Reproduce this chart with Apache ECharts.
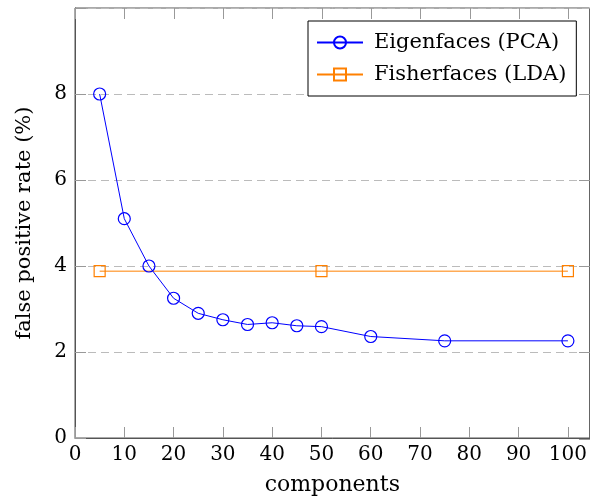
<!DOCTYPE html>
<html>
<head>
<meta charset="utf-8">
<script src="https://cdn.jsdelivr.net/npm/echarts@6/dist/echarts.min.js"></script>
<style>html,body{margin:0;padding:0;background:#fff;}#c{width:590px;height:501px;}</style>
</head>
<body>
<div id="c"></div>
<script>
var pcaX = [5, 10, 15, 20, 25, 30, 35, 40, 45, 50, 60, 75, 100];
var pcaY = [8.0, 5.1, 4.0, 3.25, 2.9, 2.75, 2.64, 2.68, 2.61, 2.59, 2.36, 2.26, 2.26];
var ldaX = [5, 50, 100];
var ldaY = [3.88, 3.88, 3.88];
var seriesNames = ['Eigenfaces (PCA)', 'Fisherfaces (LDA)'];
var xTicks = [0, 10, 20, 30, 40, 50, 60, 70, 80, 90, 100];
var yTicks = [0, 2, 4, 6, 8];
var xMin = 0, xMax = 104.4, yMin = 0, yMax = 10;

function zip(a, b) { return a.map(function (v, i) { return [v, b[i]]; }); }

var FONT = 'DejaVu Serif';
var TICK_LEN = 11;
var GRID = {left: 75, top: 8, right: 0, bottom: 62.5};
var W = 590, H = 501;
var plotL = GRID.left, plotR = W - GRID.right, plotT = GRID.top, plotB = H - GRID.bottom;
function xPx(v) { return plotL + (v - xMin) / (xMax - xMin) * (plotR - plotL); }
function yPx(v) { return plotB - (v - yMin) / (yMax - yMin) * (plotB - plotT); }

var g = [];
xTicks.forEach(function (v) {
  var px = Math.round(xPx(v)) + 0.5;
  g.push({type: 'line', shape: {x1: px, y1: plotT, x2: px, y2: plotT + TICK_LEN},
    style: {stroke: '#999', lineWidth: 1}, z: 9, silent: true});
});
yTicks.forEach(function (v) {
  var py = Math.round(yPx(v)) + 0.5;
  g.push({type: 'line', shape: {x1: plotR - TICK_LEN, y1: py, x2: plotR, y2: py},
    style: {stroke: '#999', lineWidth: 1}, z: 9, silent: true});
});

var chart = echarts.init(document.getElementById('c'), null, {renderer: 'canvas'});
chart.setOption({
  animation: false,
  backgroundColor: '#fff',
  grid: {left: GRID.left, top: GRID.top, right: GRID.right, bottom: GRID.bottom, containLabel: false,
         show: true, borderColor: '#555', borderWidth: 1, backgroundColor: 'transparent'},
  graphic: {elements: g},
  legend: {
    left: 308, top: 21,
    orient: 'vertical',
    backgroundColor: '#fff',
    borderColor: '#000', borderWidth: 1, borderRadius: 0,
    padding: [11, 10, 11, 8],
    itemGap: 11,
    itemWidth: 46, itemHeight: 15,
    textStyle: {fontFamily: FONT, fontSize: 21, color: '#000', padding: [0, 0, 0, 6]},
    data: seriesNames
  },
  xAxis: {
    type: 'value', min: xMin, max: xMax, interval: 10, position: 'bottom',
    name: 'components', nameLocation: 'middle', nameGap: 36,
    nameTextStyle: {fontFamily: FONT, fontSize: 22, color: '#000'},
    axisLine: {show: true, onZero: false, lineStyle: {color: '#555', width: 1}},
    axisTick: {show: true, inside: true, length: TICK_LEN, lineStyle: {color: '#999', width: 1}},
    axisLabel: {fontFamily: FONT, fontSize: 20, color: '#000', margin: 7, showMaxLabel: false,
      formatter: function (v) { return xTicks.indexOf(v) >= 0 ? String(v) : ''; }},
    splitLine: {show: false}
  },
  yAxis: {
    type: 'value', min: yMin, max: yMax, interval: 2, position: 'left',
    name: 'false positive rate (%)', nameLocation: 'middle', nameGap: 40,
    nameTextStyle: {fontFamily: FONT, fontSize: 21, color: '#000'},
    axisLine: {show: true, onZero: false, lineStyle: {color: '#555', width: 1}},
    axisTick: {show: true, inside: true, length: TICK_LEN, lineStyle: {color: '#999', width: 1}},
    axisLabel: {fontFamily: FONT, fontSize: 20, color: '#000', margin: 8,
      formatter: function (v) { return yTicks.indexOf(v) >= 0 ? String(v) : ''; }},
    splitLine: {show: true, lineStyle: {color: '#bbb', width: 1, type: [8, 5]}}
  },
  series: [{
    name: seriesNames[0], type: 'line', data: zip(pcaX, pcaY),
    symbol: 'circle', symbolSize: 12, showAllSymbol: true,
    lineStyle: {color: '#0000ff', width: 1},
    itemStyle: {color: 'rgba(0,0,0,0)', borderColor: '#0000ff', borderWidth: 1.2},
    z: 3
  }, {
    name: seriesNames[1], type: 'line', data: zip(ldaX, ldaY),
    symbol: 'rect', symbolSize: 11, showAllSymbol: true,
    lineStyle: {color: '#ff8000', width: 1},
    itemStyle: {color: 'rgba(0,0,0,0)', borderColor: '#ff8000', borderWidth: 1.2},
    z: 2
  }]
});
</script>
</body>
</html>
